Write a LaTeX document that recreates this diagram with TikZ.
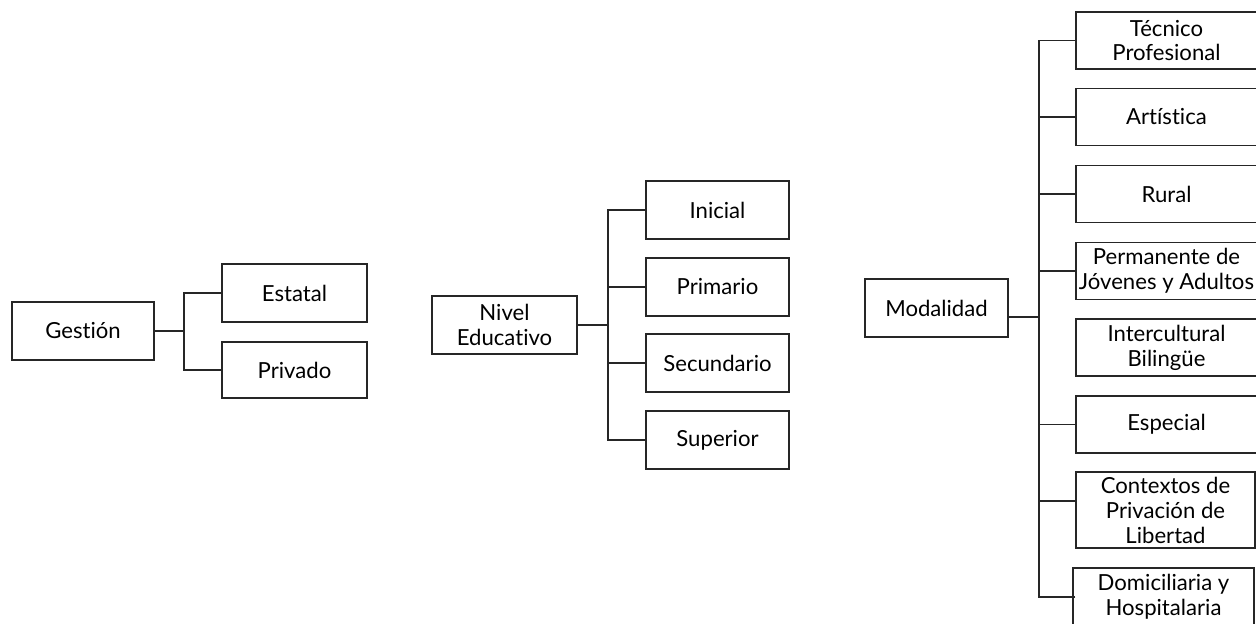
\documentclass[tikz,border=0pt]{standalone}
\usepackage{fontspec}
\setmainfont{Lato}[Ligatures={NoCommon,NoContextual}]
\usepackage{tikz}

\begin{document}
\begin{tikzpicture}[x=0.02cm,y=-0.02cm,
  caja/.style={draw=black!85,line width=0.7pt,minimum height=1.16cm,align=center,
    inner sep=0pt,font=\fontsize{12.6pt}{14.2pt}\selectfont},
  linea/.style={draw=black!85,line width=0.7pt}]
% Frame
\useasboundingbox (0,0) rectangle (1256,623);
\clip (0,0) rectangle (1256,623);
% Gestion
\node[caja,minimum width=2.84cm] (ges) at (83,331) {Gestión};
\node[caja,minimum width=2.9cm] (est) at (294.5,293) {Estatal};
\node[caja,minimum width=2.9cm,minimum height=1.12cm] (pri) at (294.5,370) {Privado};
% Nivel Educativo
\node[caja,minimum width=2.9cm] (niv) at (504.5,325) {Nivel\\Educativo};
\node[caja,minimum width=2.86cm] (ini) at (717.5,210) {Inicial};
\node[caja,minimum width=2.86cm] (prim) at (717.5,287) {Primario};
\node[caja,minimum width=2.86cm] (sec) at (717.5,363) {Secundario};
\node[caja,minimum width=2.86cm] (sup) at (717.5,440) {Superior};
% Modalidad
\node[caja,minimum width=2.86cm] (mod) at (936.5,308) {Modalidad};
\node[caja,minimum width=3.62cm,minimum height=1.14cm] (tec) at (1166.5,40.5) {Técnico\\Profesional};
\node[caja,minimum width=3.62cm,minimum height=1.14cm] (art) at (1166.5,117) {Artística};
\node[caja,minimum width=3.62cm,minimum height=1.14cm] (rur) at (1166.5,194) {Rural};
\node[caja,minimum width=3.62cm,minimum height=1.14cm] (per) at (1166.5,271) {Permanente de\\Jóvenes y Adultos};
\node[caja,minimum width=3.62cm,minimum height=1.14cm] (int) at (1166.5,347.5) {Intercultural\\Bilingüe};
\node[caja,minimum width=3.62cm,minimum height=1.14cm] (esp) at (1166.5,424.5) {Especial};
\node[caja,minimum width=3.58cm,minimum height=1.52cm] (con) at (1165.5,510) {Contextos de\\Privación de\\Libertad};
\node[caja,minimum width=3.62cm] (dom) at (1163.5,597) {Domiciliaria y\\Hospitalaria};
% Buses
\coordinate (b1) at (184,331);
\coordinate (b2) at (608,325);
\coordinate (b3) at (1039,317);
% Connect the boxes
\draw[linea] (ges.east) -- (b1);
\draw[linea] (est.west) -| (b1);
\draw[linea] (pri.west) -| (b1);
\draw[linea] (niv.east) -- (b2);
\draw[linea] (ini.west) -| (b2);
\draw[linea] (prim.west) -| (b2);
\draw[linea] (sec.west) -| (b2);
\draw[linea] (sup.west) -| (b2);
\draw[linea] (mod.east |- b3) -- (b3);
\draw[linea] (tec.west) -| (b3);
\draw[linea] (art.west) -| (b3);
\draw[linea] (rur.west) -| (b3);
\draw[linea] (per.west) -| (b3);
\draw[linea] (esp.west) -| (b3);
\draw[linea] ([yshift=0.18cm]con.west) -| (b3);
\draw[linea] ([xshift=0.06cm]dom.west) -| (b3);
\end{tikzpicture}
\end{document}
